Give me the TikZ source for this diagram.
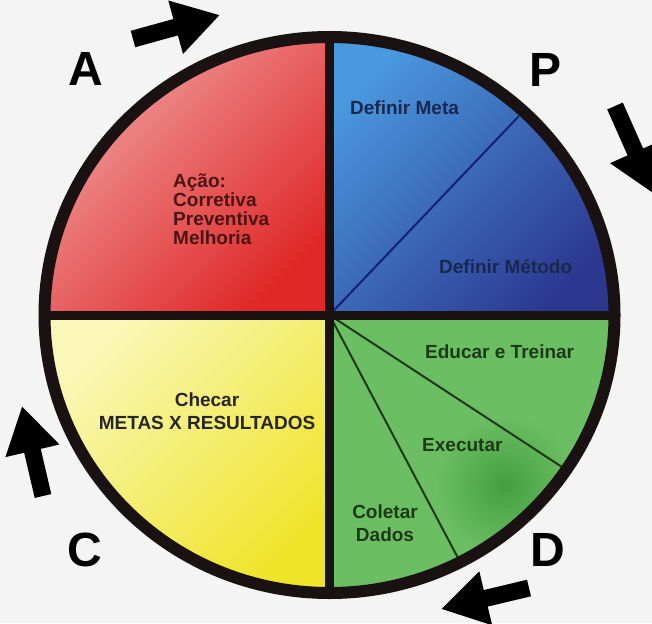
\documentclass[tikz,border=0pt]{standalone}
\usepackage{fontspec}
\setmainfont{Liberation Sans}
\usetikzlibrary{arrows.meta}

\definecolor{bgcol}{HTML}{F4F4F4}
\definecolor{redL}{HTML}{F0A0A0}
\definecolor{redD}{HTML}{E02828}
\definecolor{blueL}{HTML}{4A98DE}
\definecolor{blueD}{HTML}{2C3890}
\definecolor{greenL}{HTML}{6CBE62}
\definecolor{greenD}{HTML}{42A040}
\definecolor{yellowL}{HTML}{FAF7B8}
\definecolor{yellowD}{HTML}{EFE428}
\definecolor{redT}{HTML}{4A1414}
\definecolor{blueT}{HTML}{1A2850}
\definecolor{greenT}{HTML}{1C3A18}
\definecolor{rim}{HTML}{1A1212}

\begin{document}
\begin{tikzpicture}[x=1pt,y=-1pt,
  phase/.style={font=\fontsize{48}{48}\selectfont\bfseries, inner sep=0pt},
  txt/.style={font=\fontsize{19}{23}\selectfont\bfseries, inner sep=0pt},
  bigarrow/.style={line width=17pt, -{Triangle[length=46pt,width=52pt]}},
  divider/.style={line width=2pt}]
  % page and background
  \useasboundingbox (0,0) rectangle (652,623);
  \clip (0,0) rectangle (652,623);
  \fill[bgcol] (0,0) rectangle (652,623);
  \coordinate (c) at (329.5,315);
  % Quadrants
  \begin{scope}
    \clip (c) ellipse [x radius=285pt, y radius=278pt];
    \shade[top color=redL, bottom color=redD, shading angle=45] (c) rectangle (40,30);
    \shade[top color=blueL, bottom color=blueD, shading angle=45] (c) rectangle (620,30);
    \fill[greenL] (c) rectangle (620,600);
    \shade[inner color=greenD, outer color=greenL] (505,485) circle [radius=70pt];
    \shade[top color=yellowL, bottom color=yellowD, shading angle=45] (c) rectangle (40,600);
    % thin dividers
    \draw[divider, blueT!80!blue] (c) -- (519,116);
    \draw[divider, greenT] (c) -- (562,467);
    \draw[divider, greenT] (c) -- (458,558);
  \end{scope}
  % Cross and rim
  \draw[rim, line width=9pt] (329.5,37) -- (329.5,593);
  \draw[rim, line width=9pt] (44,315) -- (615,315);
  \draw[rim, line width=12pt] (c) ellipse [x radius=285pt, y radius=278pt];
  % Texts in the quadrants
  \node[txt, redT, align=left, anchor=west, font=\fontsize{19}{19}\selectfont\bfseries] (acao) at (173,209)
    {Ação:\\Corretiva\\Preventiva\\Melhoria};
  \node[txt, blueT, anchor=west] (meta) at (350,108) {Definir Meta};
  \node[txt, blueT, anchor=west] (metodo) at (439,267) {Definir Método};
  \node[txt, greenT, anchor=west] (treinar) at (425,352) {Educar e Treinar};
  \node[txt, greenT, anchor=west] (executar) at (422,445) {Executar};
  \node[txt, greenT, align=center] (coletar) at (385,523) {Coletar\\Dados};
  \node[txt, black!85, align=center] (checar) at (207,411) {Checar\\METAS X RESULTADOS};
  % Phase letters
  \node[phase] (lA) at (86,69) {A};
  \node[phase] (lP) at (545,70) {P};
  \node[phase] (lC) at (85,550) {C};
  \node[phase] (lD) at (548,550) {D};
  % Turning arrows
  \draw[bigarrow] (133,39) -- (220,15);
  \draw[bigarrow] (615,106) -- (654,194);
  \draw[bigarrow] (529,588) -- (441,609);
  \draw[bigarrow] (43,496) -- (22,406);
\end{tikzpicture}
\end{document}
